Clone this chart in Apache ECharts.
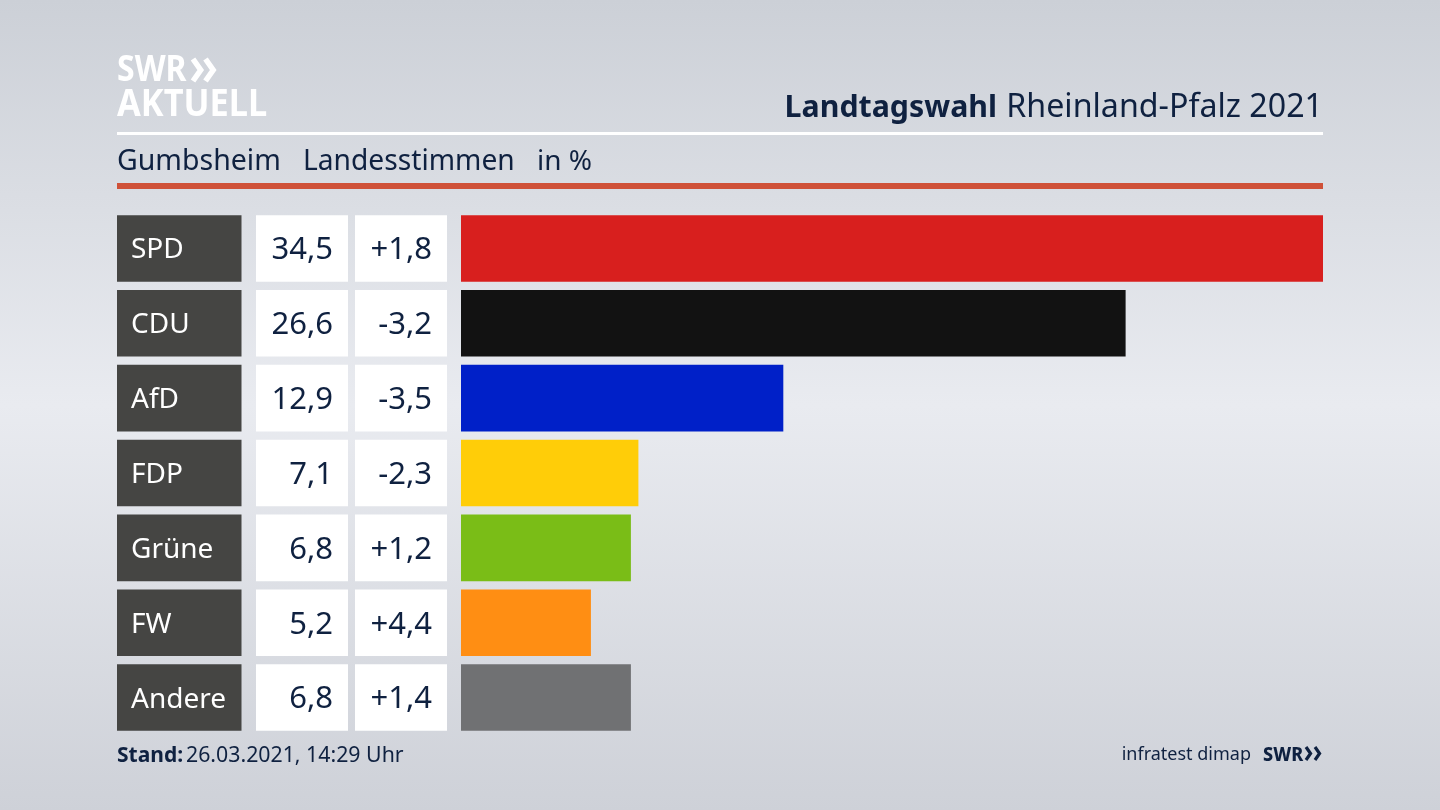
<!DOCTYPE html>
<html><head><meta charset="utf-8">
<style>html,body{margin:0;padding:0;width:1440px;height:810px;overflow:hidden;background:#dfe1e7}#c{width:1440px;height:810px}</style>
<script src="https://cdn.jsdelivr.net/npm/echarts@6/dist/echarts.min.js"></script>
</head><body><div id="c"></div><script>
const parties = ['SPD','CDU','AfD','FDP','Grüne','FW','Andere'];
const shares = [34.5,26.6,12.9,7.1,6.8,5.2,6.8];
const changes = ['+1,8','-3,2','-3,5','-2,3','+1,2','+4,4','+1,4'];
const colours = ['#d81f1e','#121212','#0020c8','#ffcd08','#7abd17','#ff8e13','#707173'];
const NAVY = '#0f2140', FONT = '"Noto Sans","Open Sans",sans-serif';
const TOP = 211, H = 524;
const columns = [
  {left:117,width:124.5},{left:256,width:92},{left:355,width:92},{left:461,width:862}
];
const axisOff = {show:false};
const chart = echarts.init(document.getElementById('c'),null,{renderer:'canvas'});
function cellSeries(i,names,fill,textColor,pos,dist){
  return {type:'bar',xAxisIndex:i,yAxisIndex:i,barWidth:66.6,silent:true,animation:false,
    data:names.map(n=>({value:1,name:n})),
    itemStyle:{color:fill},
    label:{show:true,position:pos,distance:dist,offset:[0,2],color:textColor,fontFamily:FONT,fontSize:pos==='insideLeft'?28:31,
      formatter:p=>p.name}};
}
const t=(x,y,text,size,color,weight,align,sy)=>({type:'text',x,y,scaleY:sy||1,silent:true,style:{text,fontSize:size,fontFamily:FONT,fill:color,fontWeight:weight||400,textAlign:align||'left',textVerticalAlign:'middle'}});
const rect=(x,y,w,h,fill)=>({type:'rect',silent:true,shape:{x,y,width:w,height:h},style:{fill}});
const chev=(x,y,s,c,lw)=>({type:'polyline',silent:true,shape:{points:[[x,y],[x+s*.7,y+s],[x,y+2*s]]},style:{stroke:c,lineWidth:lw,fill:null,lineJoin:'miter'}});
chart.setOption({
  animation:false,
  backgroundColor:{type:'linear',x:0,y:0,x2:0,y2:1,colorStops:[
    {offset:0,color:'#ccd0d7'},{offset:.5,color:'#e9ebf0'},{offset:1,color:'#ced1d8'}]},
  grid:columns.map(c=>({left:c.left,width:c.width,top:TOP,height:H})),
  xAxis:columns.map((c,i)=>({gridIndex:i,type:'value',min:0,max:i===3?34.5:1,...axisOff})),
  yAxis:columns.map((c,i)=>({gridIndex:i,type:'category',inverse:true,data:parties,...axisOff})),
  series:[
    cellSeries(0,parties,'#454543','#ffffff','insideLeft',14),
    cellSeries(1,shares.map(v=>v.toFixed(1).replace('.',',')),'#ffffff',NAVY,'insideRight',15),
    cellSeries(2,changes,'#ffffff',NAVY,'insideRight',15),
    {type:'bar',xAxisIndex:3,yAxisIndex:3,barWidth:66.6,silent:true,animation:false,
     data:shares.map((v,i)=>({value:v,itemStyle:{color:colours[i]}}))}
  ],
  graphic:[
    rect(117,132,1206,3,'#ffffff'),
    rect(117,183,1206,6,'#cf5138'),
    t(117,71,'SWR',32,'#ffffff',700,'left',1.13),
    t(117,105,'AKTUELL',34.4,'#ffffff',700,'left',1.1),
    chev(193,59,11,'#ffffff',5.5),chev(205.5,59,11,'#ffffff',5.5),
    t(1323,108,'Rheinland-Pfalz 2021',32.2,NAVY,400,'right'),
    t(997,108,'Landtagswahl',30.3,NAVY,700,'right'),
    t(117,162,'Gumbsheim',28.5,NAVY),
    t(303,162,'Landesstimmen',28.2,NAVY),
    t(537,162,'in %',28,NAVY),
    t(117,756,'Stand:',21,NAVY,700),
    t(186,756,'26.03.2021, 14:29 Uhr',21.3,NAVY),
    t(1251,755,'infratest dimap',18,NAVY,400,'right'),
    t(1263,755,'SWR',18,NAVY,800,'left',1.1),
    chev(1306,747,6.5,NAVY,3.2),chev(1315,747,6.5,NAVY,3.2)
  ]
});
</script></body></html>
